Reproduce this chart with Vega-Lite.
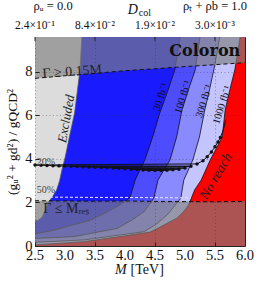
{
  "$schema": "https://vega.github.io/schema/vega-lite/v6.json",
  "width": 210,
  "height": 209,
  "autosize": {"type": "none"},
  "padding": {"left": 35, "top": 37, "right": 13, "bottom": 39},
  "background": "white",
  "config": {
    "font": "Liberation Serif",
    "view": {"stroke": "#222", "strokeWidth": 1},
    "axis": {"labelFont": "Liberation Serif", "titleFont": "Liberation Serif", "labelColor": "#111", "titleColor": "#111", "titleFontWeight": "normal", "domain": false, "tickColor": "#222", "labelFlush": false, "labelOverlap": false}
  },
  "datasets": {
    "contours": [
      {"c": "c1", "y": 0.55, "x": 2.5}, {"c": "c1", "y": 0.73, "x": 2.82}, {"c": "c1", "y": 1.19, "x": 3.43}, {"c": "c1", "y": 1.42, "x": 3.6}, {"c": "c1", "y": 1.8, "x": 3.86}, {"c": "c1", "y": 2.2, "x": 4.08}, {"c": "c1", "y": 3.03, "x": 4.17}, {"c": "c1", "y": 3.95, "x": 4.33}, {"c": "c1", "y": 5.0, "x": 4.46}, {"c": "c1", "y": 6.11, "x": 4.58}, {"c": "c1", "y": 7.1, "x": 4.71}, {"c": "c1", "y": 8.085, "x": 4.83}, {"c": "c1", "y": 9.6, "x": 4.92},
      {"c": "c2", "y": 0.35, "x": 2.5}, {"c": "c2", "y": 0.43, "x": 3.15}, {"c": "c2", "y": 0.81, "x": 3.87}, {"c": "c2", "y": 1.2, "x": 4.12}, {"c": "c2", "y": 1.58, "x": 4.32}, {"c": "c2", "y": 2.19, "x": 4.48}, {"c": "c2", "y": 3.03, "x": 4.55}, {"c": "c2", "y": 3.95, "x": 4.75}, {"c": "c2", "y": 5.0, "x": 4.86}, {"c": "c2", "y": 6.25, "x": 4.95}, {"c": "c2", "y": 7.2, "x": 5.06}, {"c": "c2", "y": 8.085, "x": 5.17}, {"c": "c2", "y": 9.6, "x": 5.25},
      {"c": "c3", "y": 0.17, "x": 2.5}, {"c": "c3", "y": 0.28, "x": 3.32}, {"c": "c3", "y": 0.66, "x": 4.32}, {"c": "c3", "y": 1.0, "x": 4.52}, {"c": "c3", "y": 1.42, "x": 4.7}, {"c": "c3", "y": 2.19, "x": 4.93}, {"c": "c3", "y": 3.03, "x": 4.98}, {"c": "c3", "y": 3.95, "x": 5.13}, {"c": "c3", "y": 5.0, "x": 5.24}, {"c": "c3", "y": 6.25, "x": 5.33}, {"c": "c3", "y": 7.2, "x": 5.41}, {"c": "c3", "y": 8.085, "x": 5.48}, {"c": "c3", "y": 9.6, "x": 5.58},
      {"c": "c4", "y": 0.05, "x": 2.5}, {"c": "c4", "y": 0.2, "x": 3.32}, {"c": "c4", "y": 0.5, "x": 4.09}, {"c": "c4", "y": 0.64, "x": 4.42}, {"c": "c4", "y": 0.89, "x": 4.6}, {"c": "c4", "y": 1.29, "x": 4.87}, {"c": "c4", "y": 1.56, "x": 4.97}, {"c": "c4", "y": 1.8, "x": 5.04}, {"c": "c4", "y": 2.02, "x": 5.08}, {"c": "c4", "y": 2.57, "x": 5.16}, {"c": "c4", "y": 3.03, "x": 5.27}, {"c": "c4", "y": 3.95, "x": 5.42}, {"c": "c4", "y": 5.0, "x": 5.62}, {"c": "c4", "y": 6.25, "x": 5.67}, {"c": "c4", "y": 7.2, "x": 5.75}, {"c": "c4", "y": 8.085, "x": 5.83}, {"c": "c4", "y": 9.6, "x": 5.92},
      {"c": "ex", "y": 1.15, "x": 2.5}, {"c": "ex", "y": 1.2, "x": 2.56}, {"c": "ex", "y": 1.33, "x": 2.62}, {"c": "ex", "y": 1.65, "x": 2.67}, {"c": "ex", "y": 2.0, "x": 2.72}, {"c": "ex", "y": 2.3, "x": 2.8}, {"c": "ex", "y": 2.57, "x": 2.86}, {"c": "ex", "y": 3.0, "x": 2.91}, {"c": "ex", "y": 3.63, "x": 2.96}, {"c": "ex", "y": 4.04, "x": 3.0}, {"c": "ex", "y": 5.1, "x": 3.08}, {"c": "ex", "y": 6.11, "x": 3.16}, {"c": "ex", "y": 8.085, "x": 3.25}, {"c": "ex", "y": 9.6, "x": 3.28}
    ],
    "guides": [
      {"g": "top", "x": 2.5, "y": 7.7}, {"g": "top", "x": 3.0, "y": 7.82}, {"g": "top", "x": 3.5, "y": 7.93}, {"g": "top", "x": 4.0, "y": 8.05}, {"g": "top", "x": 4.5, "y": 8.14}, {"g": "top", "x": 5.0, "y": 8.24}, {"g": "top", "x": 5.5, "y": 8.33}, {"g": "top", "x": 6.0, "y": 8.42},
      {"g": "bot", "x": 2.5, "y": 2.08}, {"g": "bot", "x": 3.0, "y": 2.07}, {"g": "bot", "x": 3.5, "y": 2.06}, {"g": "bot", "x": 4.0, "y": 2.07}, {"g": "bot", "x": 4.5, "y": 2.05}, {"g": "bot", "x": 5.0, "y": 2.04}, {"g": "bot", "x": 5.5, "y": 2.03}, {"g": "bot", "x": 6.0, "y": 2.05},
      {"g": "p50", "x": 2.5, "y": 2.25}, {"g": "p50", "x": 3.0, "y": 2.24}, {"g": "p50", "x": 3.5, "y": 2.23}, {"g": "p50", "x": 4.0, "y": 2.23}, {"g": "p50", "x": 4.5, "y": 2.22}, {"g": "p50", "x": 5.1, "y": 2.21}
    ],
    "markers": [
      {"x": 2.5, "y": 3.72}, {"x": 2.6, "y": 3.71}, {"x": 2.7, "y": 3.7}, {"x": 2.8, "y": 3.69}, {"x": 2.9, "y": 3.68}, {"x": 3.0, "y": 3.67}, {"x": 3.1, "y": 3.66}, {"x": 3.2, "y": 3.65}, {"x": 3.3, "y": 3.64}, {"x": 3.4, "y": 3.63}, {"x": 3.5, "y": 3.62}, {"x": 3.6, "y": 3.61}, {"x": 3.7, "y": 3.6}, {"x": 3.8, "y": 3.58}, {"x": 3.9, "y": 3.57}, {"x": 4.0, "y": 3.55}, {"x": 4.1, "y": 3.53}, {"x": 4.2, "y": 3.51}, {"x": 4.3, "y": 3.49}, {"x": 4.4, "y": 3.48}, {"x": 4.5, "y": 3.47}, {"x": 4.6, "y": 3.47}, {"x": 4.7, "y": 3.48}, {"x": 4.8, "y": 3.5}, {"x": 4.9, "y": 3.53}, {"x": 5.0, "y": 3.58}, {"x": 5.1, "y": 3.66}, {"x": 5.2, "y": 3.77}, {"x": 5.3, "y": 3.92}, {"x": 5.37, "y": 4.1}, {"x": 5.44, "y": 4.32}, {"x": 5.5, "y": 4.56}, {"x": 5.55, "y": 4.78}, {"x": 5.59, "y": 4.98}, {"x": 5.64, "y": 5.35}, {"x": 5.68, "y": 5.8}
    ],
    "toplabels": [
      {"t": "2.4×10⁻¹", "x": 2.5}, {"t": "8.4×10⁻²", "x": 3.5}, {"t": "1.9×10⁻²", "x": 4.5}, {"t": "3.0×10⁻³", "x": 5.5}
    ],
    "bottomlabels": [
      {"t": "2.5", "x": 2.5}, {"t": "3.0", "x": 3.0}, {"t": "3.5", "x": 3.5}, {"t": "4.0", "x": 4.0}, {"t": "4.5", "x": 4.5}, {"t": "5.0", "x": 5.0}, {"t": "5.5", "x": 5.5}, {"t": "6.0", "x": 6.0}
    ]
  },
  "layer": [
    {
      "data": {"values": [{"x": 2.5, "x2": 6.0, "y": 0, "y2": 9.6}]},
      "mark": {"type": "rect", "color": "#ff0000"},
      "encoding": {
        "x": {"field": "x", "type": "quantitative", "scale": {"domain": [2.5, 6], "nice": false, "zero": false},
          "axis": {"orient": "bottom", "values": [2.5, 3, 3.5, 4, 4.5, 5, 5.5, 6], "labels": false, "tickSize": -4, "title": null, "grid": true, "gridDash": [1, 2.5], "gridColor": "#333", "gridOpacity": 0.5, "gridWidth": 0.8, "zindex": 1}},
        "x2": {"field": "x2"},
        "y": {"field": "y", "type": "quantitative", "scale": {"domain": [0, 9.6], "nice": false, "zero": false},
          "axis": {"values": [0, 2, 4, 6, 8], "format": "d", "labelFontSize": 14.5, "labelOverlap": false, "labelFlush": false, "tickSize": -4, "labelPadding": 7, "title": "(gᵤ² + gd²) / gQCD²", "titleFontSize": 13.5, "titlePadding": 5, "grid": true, "gridDash": [1, 2.5], "gridColor": "#333", "gridOpacity": 0.5, "gridWidth": 0.8, "zindex": 1}},
        "y2": {"field": "y2"}
      }
    },
    {
      "data": {"name": "contours"},
      "transform": [{"filter": "datum.c == 'c4'"}],
      "mark": {"type": "area", "orient": "horizontal", "color": "#c4c4ff"},
      "encoding": {"y": {"field": "y", "type": "quantitative"}, "x": {"field": "x", "type": "quantitative", "stack": null}, "x2": {"datum": 2.5}}
    },
    {
      "data": {"name": "contours"},
      "transform": [{"filter": "datum.c == 'c3'"}],
      "mark": {"type": "area", "orient": "horizontal", "color": "#8a8aff"},
      "encoding": {"y": {"field": "y", "type": "quantitative"}, "x": {"field": "x", "type": "quantitative", "stack": null}, "x2": {"datum": 2.5}}
    },
    {
      "data": {"name": "contours"},
      "transform": [{"filter": "datum.c == 'c2'"}],
      "mark": {"type": "area", "orient": "horizontal", "color": "#4d4dff"},
      "encoding": {"y": {"field": "y", "type": "quantitative"}, "x": {"field": "x", "type": "quantitative", "stack": null}, "x2": {"datum": 2.5}}
    },
    {
      "data": {"name": "contours"},
      "transform": [{"filter": "datum.c == 'c1'"}],
      "mark": {"type": "area", "orient": "horizontal", "color": "#1a1aff"},
      "encoding": {"y": {"field": "y", "type": "quantitative"}, "x": {"field": "x", "type": "quantitative", "stack": null}, "x2": {"datum": 2.5}}
    },
    {
      "data": {"name": "contours"},
      "transform": [{"filter": "datum.c == 'ex'"}],
      "mark": {"type": "area", "orient": "horizontal", "color": "#dcdcdc"},
      "encoding": {"y": {"field": "y", "type": "quantitative"}, "x": {"field": "x", "type": "quantitative", "stack": null}, "x2": {"datum": 2.5}}
    },
    {
      "data": {"name": "contours"},
      "transform": [{"filter": "datum.c != 'ex'"}],
      "mark": {"type": "line", "color": "#111", "strokeWidth": 0.8},
      "encoding": {"y": {"field": "y", "type": "quantitative"}, "x": {"field": "x", "type": "quantitative"}, "detail": {"field": "c"}, "order": {"field": "y", "type": "quantitative"}}
    },
    {
      "data": {"name": "contours"},
      "transform": [{"filter": "datum.c == 'ex'"}],
      "mark": {"type": "line", "color": "#555", "strokeWidth": 0.8},
      "encoding": {"y": {"field": "y", "type": "quantitative"}, "x": {"field": "x", "type": "quantitative"}, "order": {"field": "y", "type": "quantitative"}}
    },
    {
      "data": {"name": "guides"},
      "transform": [{"filter": "datum.g == 'top'"}],
      "mark": {"type": "area", "color": "#808080", "opacity": 0.65},
      "encoding": {"x": {"field": "x", "type": "quantitative"}, "y": {"field": "y", "type": "quantitative", "stack": null}, "y2": {"datum": 9.6}}
    },
    {
      "data": {"name": "guides"},
      "transform": [{"filter": "datum.g == 'bot'"}],
      "mark": {"type": "area", "color": "#808080", "opacity": 0.65},
      "encoding": {"x": {"field": "x", "type": "quantitative"}, "y": {"field": "y", "type": "quantitative", "stack": null}, "y2": {"datum": 0}}
    },
    {
      "data": {"name": "guides"},
      "transform": [{"filter": "datum.g == 'p50'"}],
      "mark": {"type": "line", "color": "#e8e8ff", "strokeWidth": 1, "strokeDash": [3, 2]},
      "encoding": {"x": {"field": "x", "type": "quantitative"}, "y": {"field": "y", "type": "quantitative"}}
    },
    {
      "data": {"name": "guides"},
      "transform": [{"filter": "datum.g != 'p50'"}],
      "mark": {"type": "line", "color": "#111", "strokeWidth": 1, "strokeDash": [4, 3]},
      "encoding": {"x": {"field": "x", "type": "quantitative"}, "y": {"field": "y", "type": "quantitative"}, "detail": {"field": "g"}}
    },
    {
      "data": {"name": "markers"},
      "mark": {"type": "line", "color": "#111", "strokeWidth": 1},
      "encoding": {"x": {"field": "x", "type": "quantitative"}, "y": {"field": "y", "type": "quantitative"}, "order": {"field": "y", "type": "quantitative"}}
    },
    {
      "data": {"name": "markers"},
      "transform": [{"filter": "datum.y < 5.1"}],
      "mark": {"type": "point", "filled": true, "color": "#111", "size": 12, "opacity": 1},
      "encoding": {"x": {"field": "x", "type": "quantitative"}, "y": {"field": "y", "type": "quantitative"}}
    },
    {
      "data": {"name": "toplabels"},
      "mark": {"type": "rule", "color": "#222", "strokeWidth": 1},
      "encoding": {"x": {"field": "x", "type": "quantitative"}, "y": {"datum": 9.6}, "y2": {"datum": 9.42}}
    },
    {
      "data": {"name": "toplabels"},
      "mark": {"type": "text", "fontSize": 11.5, "color": "#111", "font": "Liberation Serif"},
      "encoding": {"x": {"field": "x", "type": "quantitative"}, "y": {"datum": 10.12}, "text": {"field": "t"}}
    },
    {
      "data": {"name": "bottomlabels"},
      "mark": {"type": "text", "fontSize": 14.5, "color": "#111", "font": "Liberation Serif"},
      "encoding": {"x": {"field": "x", "type": "quantitative"}, "y": {"datum": -0.47}, "text": {"field": "t"}}
    },
    {
      "data": {"values": [{"t": "M", "x": 3.93, "y": -1.12}]},
      "mark": {"type": "text", "fontSize": 14, "fontStyle": "italic", "color": "#111", "font": "Liberation Serif"},
      "encoding": {"x": {"field": "x", "type": "quantitative"}, "y": {"field": "y", "type": "quantitative"}, "text": {"field": "t"}}
    },
    {
      "data": {"values": [{"t": "[TeV]", "x": 4.37, "y": -1.12}]},
      "mark": {"type": "text", "fontSize": 14, "color": "#111", "font": "Liberation Serif"},
      "encoding": {"x": {"field": "x", "type": "quantitative"}, "y": {"field": "y", "type": "quantitative"}, "text": {"field": "t"}}
    },
    {
      "data": {"values": [{"t": "30 fb⁻¹", "x": 4.6, "y": 6.84}, {"t": "100 fb⁻¹", "x": 4.97, "y": 6.84}, {"t": "300 fb⁻¹", "x": 5.32, "y": 6.66}, {"t": "1000 fb⁻¹", "x": 5.62, "y": 6.48}]},
      "mark": {"type": "text", "angle": -72, "fontSize": 10.5, "color": "#111", "font": "Liberation Serif"},
      "encoding": {"x": {"field": "x", "type": "quantitative"}, "y": {"field": "y", "type": "quantitative"}, "text": {"field": "t"}}
    },
    {
      "data": {"values": [{"t": "Excluded", "x": 3.02, "y": 5.85}]},
      "mark": {"type": "text", "angle": -80, "fontSize": 13, "fontStyle": "italic", "color": "#222", "font": "Liberation Serif"},
      "encoding": {"x": {"field": "x", "type": "quantitative"}, "y": {"field": "y", "type": "quantitative"}, "text": {"field": "t"}}
    },
    {
      "data": {"values": [{"t": "No reach", "x": 5.52, "y": 3.2}]},
      "mark": {"type": "text", "angle": -60, "fontSize": 14, "fontStyle": "italic", "color": "#222", "font": "Liberation Serif"},
      "encoding": {"x": {"field": "x", "type": "quantitative"}, "y": {"field": "y", "type": "quantitative"}, "text": {"field": "t"}}
    },
    {
      "data": {"values": [{"t": "Γ ≥ 0.15M", "x": 3.12, "y": 8.0}]},
      "mark": {"type": "text", "angle": -4, "fontSize": 14, "color": "#222", "font": "Liberation Serif"},
      "encoding": {"x": {"field": "x", "type": "quantitative"}, "y": {"field": "y", "type": "quantitative"}, "text": {"field": "t"}}
    },
    {
      "data": {"values": [{"t": "Γ ≤ Mᵣₑₛ", "x": 3.02, "y": 1.7}]},
      "mark": {"type": "text", "fontSize": 14, "color": "#222", "font": "Liberation Serif"},
      "encoding": {"x": {"field": "x", "type": "quantitative"}, "y": {"field": "y", "type": "quantitative"}, "text": {"field": "t"}}
    },
    {
      "data": {"values": [{"t": "Coloron", "x": 5.33, "y": 8.96}]},
      "mark": {"type": "text", "fontSize": 16, "fontWeight": "bold", "color": "#111", "font": "DejaVu Serif"},
      "encoding": {"x": {"field": "x", "type": "quantitative"}, "y": {"field": "y", "type": "quantitative"}, "text": {"field": "t"}}
    },
    {
      "data": {"values": [{"t": "20%", "x": 2.68, "y": 3.87}, {"t": "50%", "x": 2.68, "y": 2.55}]},
      "mark": {"type": "text", "fontSize": 10, "color": "#444", "font": "Liberation Serif"},
      "encoding": {"x": {"field": "x", "type": "quantitative"}, "y": {"field": "y", "type": "quantitative"}, "text": {"field": "t"}}
    },
    {
      "data": {"values": [{"t": "D", "x": 4.13, "y": 10.82}]},
      "mark": {"type": "text", "fontSize": 14, "fontStyle": "italic", "color": "#111", "font": "Liberation Serif"},
      "encoding": {"x": {"field": "x", "type": "quantitative"}, "y": {"field": "y", "type": "quantitative"}, "text": {"field": "t"}}
    },
    {
      "data": {"values": [{"t": "col", "x": 4.33, "y": 10.7}]},
      "mark": {"type": "text", "fontSize": 10, "color": "#111", "font": "Liberation Serif"},
      "encoding": {"x": {"field": "x", "type": "quantitative"}, "y": {"field": "y", "type": "quantitative"}, "text": {"field": "t"}}
    },
    {
      "data": {"values": [{"t": "ρᵤ = 0.0", "x": 2.8, "y": 11.02}, {"t": "ρₜ + ρb = 1.0", "x": 5.5, "y": 11.02}]},
      "mark": {"type": "text", "fontSize": 12.5, "color": "#111", "font": "Liberation Serif"},
      "encoding": {"x": {"field": "x", "type": "quantitative"}, "y": {"field": "y", "type": "quantitative"}, "text": {"field": "t"}}
    }
  ]
}
